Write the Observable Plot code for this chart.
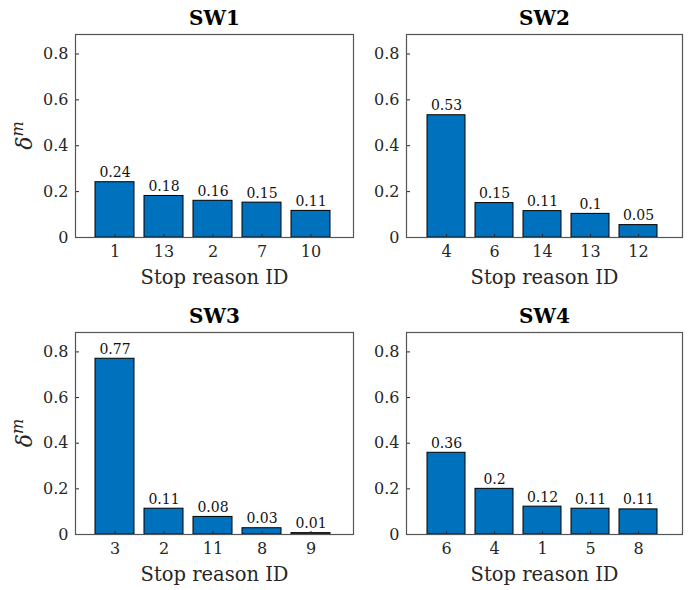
<!DOCTYPE html>
<html>
<head>
<meta charset="utf-8">
<script src="https://cdn.jsdelivr.net/npm/d3@7"></script>
<script src="https://cdn.jsdelivr.net/npm/@observablehq/plot@0.6"></script>
<style>
  html, body { margin: 0; padding: 0; background: #fff; }
  #chart { position: relative; width: 691px; height: 590px; background: #fff; overflow: hidden; }
  #chart > div { position: absolute; }
  #chart svg { overflow: visible; font-family: "DejaVu Serif" !important; }
  #chart svg text { font-family: "DejaVu Serif" !important; }
</style>
</head>
<body>
<div id="chart"></div>
<script>
// ---- data ----
const titles = ["SW1", "SW2", "SW3", "SW4"];
const ids1 = ["1", "13", "2", "7", "10"];
const vals1 = [0.241, 0.181, 0.160, 0.152, 0.116];
const labels1 = ["0.24", "0.18", "0.16", "0.15", "0.11"];
const ids2 = ["4", "6", "14", "13", "12"];
const vals2 = [0.533, 0.150, 0.115, 0.103, 0.054];
const labels2 = ["0.53", "0.15", "0.11", "0.1", "0.05"];
const ids3 = ["3", "2", "11", "8", "9"];
const vals3 = [0.770, 0.113, 0.077, 0.0275, 0.006];
const labels3 = ["0.77", "0.11", "0.08", "0.03", "0.01"];
const ids4 = ["6", "4", "1", "5", "8"];
const vals4 = [0.358, 0.200, 0.122, 0.113, 0.110];
const labels4 = ["0.36", "0.2", "0.12", "0.11", "0.11"];
const yTicks = [0, 0.2, 0.4, 0.6, 0.8];
const xLabel = "Stop reason ID";

const panels = [
  {title: titles[0], ids: ids1, vals: vals1, labels: labels1, left: 0,   top: 0,   width: 360, height: 290, mL: 75, mR: 7, mT: 34, mB: 53, ylab: true},
  {title: titles[1], ids: ids2, vals: vals2, labels: labels2, left: 360, top: 0,   width: 331, height: 290, mL: 46, mR: 9, mT: 34, mB: 53, ylab: false},
  {title: titles[2], ids: ids3, vals: vals3, labels: labels3, left: 0,   top: 290, width: 360, height: 300, mL: 75, mR: 7, mT: 42, mB: 56, ylab: true},
  {title: titles[3], ids: ids4, vals: vals4, labels: labels4, left: 360, top: 290, width: 331, height: 300, mL: 46, mR: 9, mT: 42, mB: 56, ylab: false}
];

const FONT = "DejaVu Serif";
const INK = "#262626";
const chart = document.getElementById("chart");

for (const p of panels) {
  const data = p.ids.map((id, i) => ({id, v: p.vals[i], label: p.labels[i]}));
  const fw = p.width - p.mL - p.mR;
  const fh = p.height - p.mT - p.mB;
  const plot = Plot.plot({
    width: p.width,
    height: p.height,
    marginLeft: p.mL, marginRight: p.mR, marginTop: p.mT, marginBottom: p.mB,
    style: {fontFamily: FONT, color: INK, background: "transparent", overflow: "visible"},
    x: {type: "band", domain: p.ids, paddingInner: 0.2, paddingOuter: 0.435, align: 0.47, axis: null},
    y: {domain: [0, 0.885], axis: null},
    marks: [
      Plot.barY(data, {x: "id", y: "v", fill: "#0072BD", stroke: "#000", strokeWidth: 1}),
      Plot.tickY(yTicks, {y: d => d, stroke: INK, strokeWidth: 1, insetRight: fw - 4}),
      Plot.tickX(p.ids, {x: d => d, stroke: INK, strokeWidth: 1, insetTop: fh - 3}),
      Plot.frame({stroke: "#555", strokeWidth: 1.2}),
      Plot.axisY(yTicks, {tickSize: 0, tickPadding: 7, fontSize: 16, fontFamily: FONT, fill: INK, label: null, tickFormat: d => String(d)}),
      Plot.axisX({tickSize: 0, tickPadding: 8, fontSize: 16, fontFamily: FONT, fill: INK, label: null}),
      Plot.text(data, {x: "id", y: "v", text: "label", dy: -5, lineAnchor: "bottom", fontSize: 14, fontFamily: FONT, fill: "#111"}),
      Plot.text([p.title], {frameAnchor: "top", dy: -10, lineAnchor: "bottom", fontSize: 20, fontFamily: FONT, fontWeight: "bold", fill: "#000"}),
      Plot.text([xLabel], {frameAnchor: "bottom", dy: 46, lineAnchor: "bottom", fontSize: 19.5, fontFamily: FONT, fill: INK})
    ]
  });
  if (p.ylab) {
    const svg = d3.select(plot.tagName.toLowerCase() === "svg" ? plot : plot.querySelector("svg"));
    const cy = p.mT + fh / 2;
    const t = svg.append("text")
      .attr("transform", `translate(32,${cy}) rotate(-90)`)
      .attr("text-anchor", "middle")
      .attr("font-family", FONT)
      .attr("font-style", "italic")
      .attr("font-size", 22)
      .attr("fill", INK);
    t.append("tspan").text("δ");
    t.append("tspan").attr("font-size", 16).attr("dy", -9).text("m");
  }
  const holder = document.createElement("div");
  holder.style.left = p.left + "px";
  holder.style.top = p.top + "px";
  holder.style.width = p.width + "px";
  holder.style.height = p.height + "px";
  holder.appendChild(plot);
  chart.appendChild(holder);
}
</script>
</body>
</html>
